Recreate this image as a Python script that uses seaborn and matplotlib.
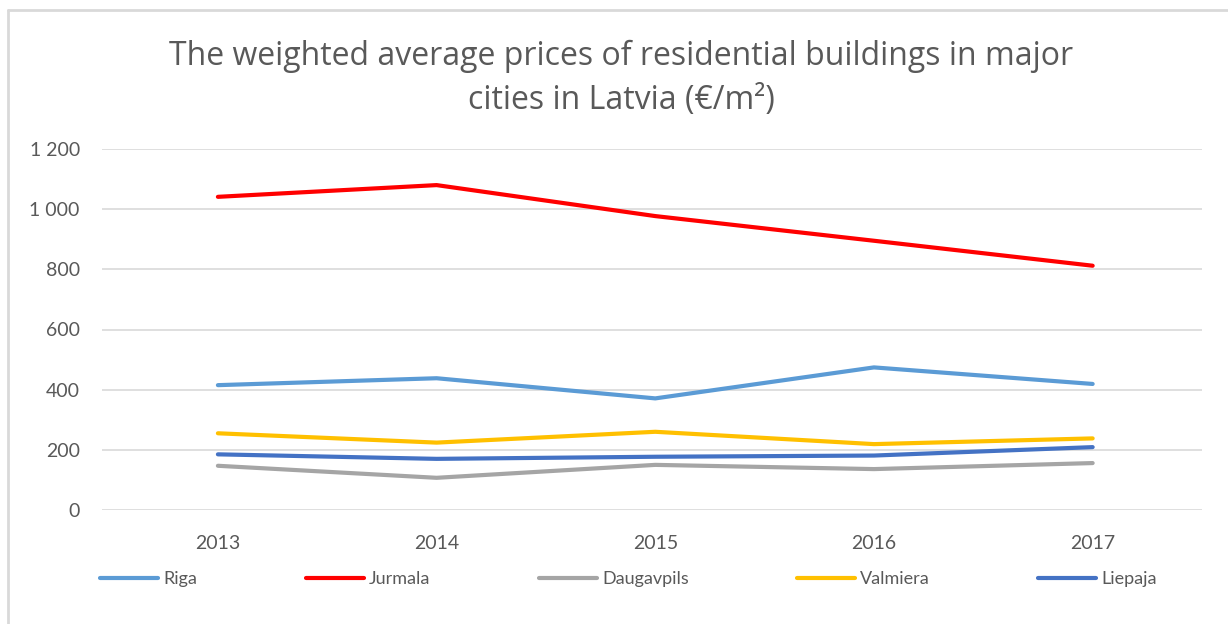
import pandas as pd
import seaborn as sns
import matplotlib.pyplot as plt
from matplotlib.ticker import FuncFormatter
from matplotlib.lines import Line2D

years = ["2013", "2014", "2015", "2016", "2017"]
riga = [415, 438, 371, 474, 419]
jurmala = [1041, 1080, 977, 895, 812]
daugavpils = [147, 107, 150, 136, 156]
valmiera = [255, 224, 260, 219, 238]
liepaja = [185, 170, 177, 181, 209]

cities = ["Riga", "Jurmala", "Daugavpils", "Valmiera", "Liepaja"]
colors = ["#5B9BD5", "#FF0000", "#A5A5A5", "#FFC000", "#4472C4"]

rows = []
for city, vals in zip(cities, [riga, jurmala, daugavpils, valmiera, liepaja]):
    for y, v in zip(years, vals):
        rows.append({"year": y, "price": v, "city": city})
df = pd.DataFrame(rows)

sns.set_style("white")
plt.rcParams['font.family'] = ['Lato', 'DejaVu Sans']

fig = plt.figure(figsize=(12.28, 6.24), dpi=100)
ax = fig.add_axes([102 / 1228, 1 - 510 / 624, 1100 / 1228, 361 / 624])

sns.lineplot(data=df, x="year", y="price", hue="city", hue_order=cities,
             palette=dict(zip(cities, colors)), linewidth=3,
             solid_capstyle="round", ax=ax, legend=False)

ax.set_ylim(0, 1200)
ax.set_xlim(-0.53, 4.5)
ax.set_yticks(range(0, 1201, 200))
ax.yaxis.set_major_formatter(FuncFormatter(lambda v, p: f"{int(v):,}".replace(",", " ")))
ax.grid(True, axis="y", color="#D9D9D9", linewidth=1.2)
ax.set_axisbelow(True)
for s in ax.spines.values():
    s.set_visible(False)
ax.tick_params(axis="both", length=0, labelsize=14, labelcolor="#595959")
ax.tick_params(axis="y", pad=16)
ax.tick_params(axis="x", pad=18)
ax.set_xlabel("")
ax.set_ylabel("")

fig.text(0.506, 1 - 56 / 624, "The weighted average prices of residential buildings in major",
         ha="center", va="center", fontsize=23, color="#595959", family=["Open Sans", "DejaVu Sans"])
fig.text(0.506, 1 - 101 / 624, "cities in Latvia (€/m²)",
         ha="center", va="center", fontsize=23, color="#595959", family=["Open Sans", "DejaVu Sans"])

handles = [Line2D([0], [0], color=c, linewidth=3, solid_capstyle="round") for c in colors]
leg = fig.legend(handles, cities, loc="center", bbox_to_anchor=(0.512, 1 - 579 / 624),
                 ncol=5, frameon=False, fontsize=13, handlelength=3.2,
                 handletextpad=0.3, columnspacing=6.0)
for t in leg.get_texts():
    t.set_color("#595959")

# chart border (cropped on right and bottom)
fig.add_artist(Line2D([8 / 1228, 8 / 1228], [0, 1 - 10 / 624], transform=fig.transFigure,
                      color="#D9D9D9", linewidth=2))
fig.add_artist(Line2D([8 / 1228, 1], [1 - 10 / 624, 1 - 10 / 624], transform=fig.transFigure,
                      color="#D9D9D9", linewidth=2))

plt.savefig("out.png", dpi=100)
